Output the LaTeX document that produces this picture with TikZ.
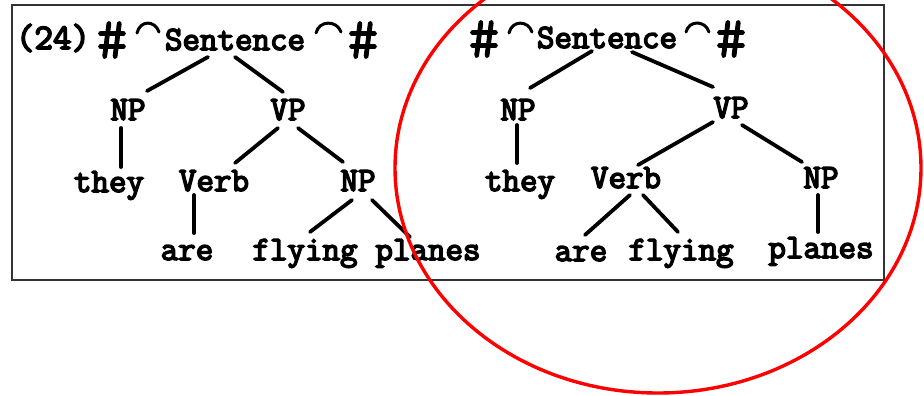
\documentclass[tikz,border=0pt]{standalone}
\usepackage{fontspec}
\newfontfamily\typed[FakeBold=4.5]{Latin Modern Mono}
\newfontfamily\typedhash[FakeBold=1.5]{Latin Modern Mono}
\begin{document}
\begin{tikzpicture}[x=1pt,y=-1pt,
  lbl/.style={anchor=base,inner sep=0pt,font=\fontsize{34}{40}\selectfont\typed},
  hash/.style={anchor=center,inner sep=0pt,font=\fontsize{60}{64}\selectfont\typedhash},
  branch/.style={line width=3.8pt,line cap=round},
  tie/.style={line width=3pt,line cap=round},
  frame/.style={draw=black!80,line width=1.6pt},
  halo/.style={draw=red,line width=3.4pt}]
\fill[white] (0,0) rectangle (924,396);
\useasboundingbox (0,0) rectangle (924,396);
\clip (0,0) rectangle (924,396);

% frame around example (24)
\draw[frame] (12,5) rectangle (884,280);

% ---------- left tree ----------
\node[lbl,font=\fontsize{36}{40}\selectfont\typed] (n24) at (53,49) {(24)};
\node[hash] (h1) at (112,40) {\#};
\draw[tie] (137,33) .. controls (140,20) and (155,20) .. (159,32);
\node[lbl] (S1) at (235,50) {Sentence};
\draw[tie] (316,33) .. controls (319,20) and (337,20) .. (341,32);
\node[hash] (h2) at (363,40) {\#};

\node[lbl] (NP1) at (128,120) {NP};
\node[lbl] (VP1) at (288,120) {VP};
\node[lbl] (they1) at (109,192) {they};
\node[lbl] (Verb1) at (214,191) {Verb};
\node[lbl] (NP1b) at (358,191) {NP};
\node[lbl] (are1) at (187,260) {are};
\node[lbl] (flying1) at (305,260) {flying};
\node[lbl] (planes1) at (428,260) {planes};

\draw[branch] ([shift={(-27,7)}]S1.base) -- ([shift={(19,-29)}]NP1.base);
\draw[branch] ([shift={(0,7)}]S1.base) -- ([shift={(-5,-28)}]VP1.base);
\draw[branch] ([shift={(-7,8)}]NP1.base) -- ([shift={(12,-25)}]they1.base);
\draw[branch] ([shift={(-10,8)}]VP1.base) -- ([shift={(21,-28)}]Verb1.base);
\draw[branch] ([shift={(10,8)}]VP1.base) -- ([shift={(-15,-29)}]NP1b.base);
\draw[branch] ([shift={(-20,4)}]Verb1.base) -- ([shift={(7,-27)}]are1.base);
\draw[branch] ([shift={(-6,9)}]NP1b.base) -- ([shift={(5,-28)}]flying1.base);
\draw[branch] ([shift={(14,9)}]NP1b.base) -- ([shift={(-18,-23)}]planes1.base);

% ---------- right tree ----------
\node[hash] (h3) at (484,39) {\#};
\draw[tie] (509,33) .. controls (512,20) and (528,20) .. (532,32);
\node[lbl] (S2) at (607,48) {Sentence};
\draw[tie] (686,32) .. controls (689,20) and (705,20) .. (709,32);
\node[hash] (h4) at (731,39) {\#};

\node[lbl] (NP2) at (518,120) {NP};
\node[lbl] (VP2) at (731,118) {VP};
\node[lbl] (they2) at (520,191) {they};
\node[lbl] (Verb2) at (626,188) {Verb};
\node[lbl] (NP2b) at (821,188) {NP};
\node[lbl] (are2) at (581,261) {are};
\node[lbl] (flying2) at (681,260) {flying};
\node[lbl] (planes2) at (821,258) {planes};

\draw[branch] ([shift={(-15,3)}]S2.base) -- ([shift={(12,-32)}]NP2.base);
\draw[branch] ([shift={(25,4)}]S2.base) -- ([shift={(-18,-31)}]VP2.base);
\draw[branch] ([shift={(-1,5)}]NP2.base) -- ([shift={(-3,-28)}]they2.base);
\draw[branch] ([shift={(-18,4)}]VP2.base) -- ([shift={(12,-23)}]Verb2.base);
\draw[branch] ([shift={(11,7)}]VP2.base) -- ([shift={(-19,-26)}]NP2b.base);
\draw[branch] ([shift={(4,7)}]Verb2.base) -- ([shift={(4,-26)}]are2.base);
\draw[branch] ([shift={(17,7)}]Verb2.base) -- ([shift={(-3,-28)}]flying2.base);
\draw[branch] ([shift={(-3,7)}]NP2b.base) -- ([shift={(-3,-26)}]planes2.base);

% red ring around the second tree
\draw[halo] (658,168) ellipse [x radius=263, y radius=225];
\end{tikzpicture}
\end{document}
